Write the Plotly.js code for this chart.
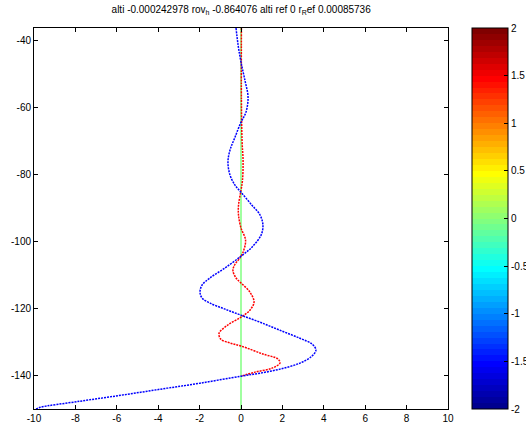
<!DOCTYPE html>
<html>
<head>
<meta charset="utf-8">
<script src="https://cdn.plot.ly/plotly-3.0.1.min.js"></script>
<style>html,body{margin:0;padding:0;background:#fff;}#chart{width:526px;height:429px;}</style>
</head>
<body>
<div id="chart"></div>
<script>
// Blue curve (value -1.5 on the colour scale)
const blueX = [-0.24,-0.14,0,0.19,0.34,0.24,0,-0.29,-0.53,-0.63,-0.53,-0.29,0,0.53,0.92,1.06,0.97,0.53,0,-0.77,-1.5,-1.88,-1.98,-1.88,-1.5,-0.77,0,0.92,1.88,2.85,3.43,3.62,3.43,2.85,1.88,0.92,0,-1.98,-3.9,-5.8,-7.8,-9.7,-9.9];
const blueY = [-36.4,-41.5,-46.6,-52,-57,-61.5,-64.5,-69,-72.8,-76.4,-80.3,-83.3,-85.4,-89.3,-92.2,-95.2,-98.2,-101.8,-104.5,-108,-111,-113.1,-115.2,-117,-118.5,-120.3,-122.1,-124.2,-126.6,-129,-130.7,-132.5,-134.3,-136.4,-138.2,-139.4,-140.3,-142.4,-144.2,-146,-147.8,-149.6,-150.1];
// Red curve (value 1.5)
const redX = [0.02,0.02,0.05,0.1,0.07,0,-0.12,-0.12,0,0.22,0.1,-0.05,-0.29,-0.39,-0.24,0,0.43,0.63,0.43,0,-0.63,-1.06,-0.97,-0.53,0,1.06,1.79,1.88,1.5,0.68,0];
const redY = [-36.4,-58,-70,-76,-82,-84.8,-89.3,-92.2,-96.1,-99.7,-103.3,-105,-106.9,-108.7,-111,-112.5,-115.2,-118.2,-120.6,-122.7,-125,-127.5,-129.3,-130.4,-131.3,-133.7,-135.2,-136.4,-137.9,-139.1,-140.3];
// Green reference line (value 0)
const greenX = [0, 0];
const greenY = [-36.4, -150.1];
// Axis ticks
const xTicks = [-10,-8,-6,-4,-2,0,2,4,6,8,10];
const yTicks = [-140,-120,-100,-80,-60,-40];
const cbTicks = [-2,-1.5,-1,-0.5,0,0.5,1,1.5,2];
const cbRange = [-2, 2];
const titleText = 'alti -0.000242978 rov<sub>h</sub> -0.864076 alti ref 0 r<sub>R</sub>ef 0.00085736';

// jet colormap, 64 discrete levels
function jet(t){
  const c = v => Math.max(0, Math.min(1, v));
  const r = c(1.5 - Math.abs(4*t - 3)), g = c(1.5 - Math.abs(4*t - 2)), b = c(1.5 - Math.abs(4*t - 1));
  return 'rgb(' + Math.round(r*255) + ',' + Math.round(g*255) + ',' + Math.round(b*255) + ')';
}
const N = 64, jetScale = [];
for (let i = 0; i < N; i++) {
  const col = jet((i + 1) / N);
  jetScale.push([i / N, col]);
  jetScale.push([(i + 1) / N, col]);
}

const traces = [
  {x: greenX, y: greenY, mode: 'lines', line: {color: 'rgb(128,255,128)', width: 1.5}, hoverinfo: 'skip'},
  {x: redX, y: redY, mode: 'lines', line: {color: 'rgb(255,0,0)', width: 1.5, shape: 'spline', dash: '2px,1px'}},
  {x: blueX, y: blueY, mode: 'lines', line: {color: 'rgb(0,0,255)', width: 1.5, shape: 'spline', dash: '2px,1px'}},
  {x: [null, null], y: [null, null], mode: 'markers', hoverinfo: 'skip',
   marker: {color: cbRange, cmin: cbRange[0], cmax: cbRange[1], colorscale: jetScale, showscale: true,
     colorbar: {x: 1.058, xanchor: 'left', xref: 'paper', y: 0.5, yanchor: 'middle', len: 1, lenmode: 'fraction',
       thickness: 36, thicknessmode: 'pixels', xpad: 0, ypad: 0, outlinecolor: '#000', outlinewidth: 1,
       ticks: 'inside', ticklen: 4, tickcolor: '#000', tickvals: cbTicks, ticktext: cbTicks.map(String),
       tickfont: {family: 'Liberation Sans, Arial, sans-serif', size: 10, color: '#000'}}}}
];

const axisCommon = {
  showgrid: false, zeroline: false, showline: true, linecolor: '#000', linewidth: 1,
  mirror: 'ticks', ticks: 'inside', ticklen: 4, tickcolor: '#000', tickwidth: 1,
  tickfont: {family: 'Liberation Sans, Arial, sans-serif', size: 10, color: '#000'}
};

const layout = {
  width: 526, height: 429,
  margin: {l: 34, r: 78, t: 28, b: 20, pad: 0, autoexpand: false},
  paper_bgcolor: '#fff', plot_bgcolor: '#fff',
  showlegend: false,
  title: {text: titleText, x: 0.4585, xanchor: 'center', yref: 'container', y: 0.977, yanchor: 'middle',
    font: {family: 'Liberation Sans, Arial, sans-serif', size: 10, color: '#000'}},
  xaxis: Object.assign({}, axisCommon, {range: [-10, 10], tickvals: xTicks, ticktext: xTicks.map(String)}),
  yaxis: Object.assign({}, axisCommon, {range: [-150.1, -36.4], tickvals: yTicks, ticktext: yTicks.map(String)})
};

Plotly.newPlot('chart', traces, layout, {displayModeBar: false, staticPlot: true});
</script>
</body>
</html>
